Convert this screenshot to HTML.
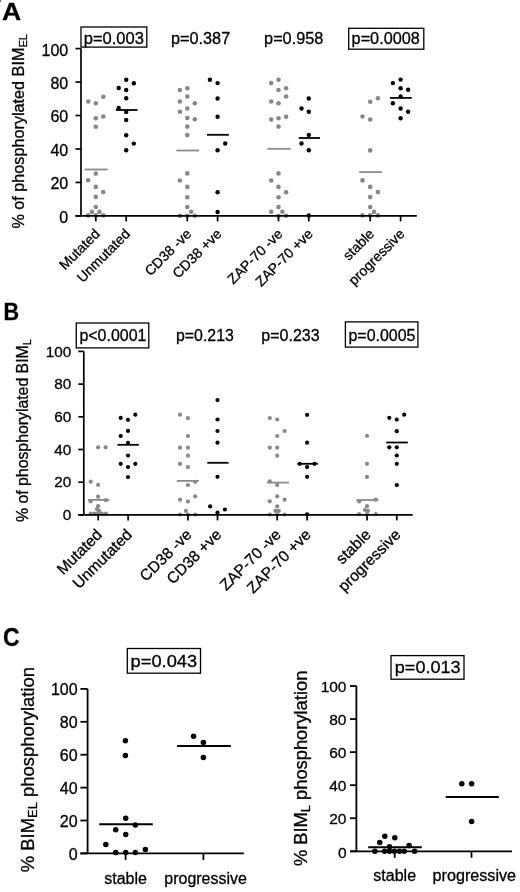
<!DOCTYPE html>
<html><head><meta charset="utf-8"><style>
html,body{margin:0;padding:0;background:#fff;}
svg{display:block;}
text{font-family:"Liberation Sans", sans-serif;fill:#000;stroke:#000;stroke-width:0.3px;}
</style></head><body>
<svg style="will-change:transform" width="520" height="892" viewBox="0 0 520 892">
<rect x="0" y="0" width="1.2" height="2" fill="#777"/>
<text x="1.9" y="19.6" font-size="24.8" text-anchor="start" textLength="19.2" lengthAdjust="spacingAndGlyphs" font-weight="bold" >A</text>
<text x="68.2" y="222.8" font-size="16" text-anchor="end" >0</text>
<text x="68.2" y="189.34" font-size="16" text-anchor="end" >20</text>
<text x="68.2" y="155.88000000000002" font-size="16" text-anchor="end" >40</text>
<text x="68.2" y="122.42000000000002" font-size="16" text-anchor="end" >60</text>
<text x="68.2" y="88.96000000000001" font-size="16" text-anchor="end" >80</text>
<text x="68.2" y="55.49999999999999" font-size="16" text-anchor="end" >100</text>
<circle cx="88.3" cy="101.5" r="2.3000000000000003" fill="#888888"/>
<circle cx="95.8" cy="103.3" r="2.3000000000000003" fill="#888888"/>
<circle cx="103.3" cy="96.7" r="2.3000000000000003" fill="#888888"/>
<circle cx="95.8" cy="118.3" r="2.3000000000000003" fill="#888888"/>
<circle cx="103.3" cy="116.5" r="2.3000000000000003" fill="#888888"/>
<circle cx="95.8" cy="126.7" r="2.3000000000000003" fill="#888888"/>
<circle cx="95.8" cy="173.6" r="2.3000000000000003" fill="#888888"/>
<circle cx="88.1" cy="180.3" r="2.3000000000000003" fill="#888888"/>
<circle cx="95.8" cy="186.9" r="2.3000000000000003" fill="#888888"/>
<circle cx="103.3" cy="192.1" r="2.3000000000000003" fill="#888888"/>
<circle cx="95.8" cy="196.9" r="2.3000000000000003" fill="#888888"/>
<circle cx="95.8" cy="207" r="2.3000000000000003" fill="#888888"/>
<circle cx="91.9" cy="211.9" r="2.3000000000000003" fill="#888888"/>
<circle cx="99.4" cy="211.9" r="2.3000000000000003" fill="#888888"/>
<circle cx="88.1" cy="215.4" r="2.3000000000000003" fill="#888888"/>
<circle cx="95.8" cy="215.4" r="2.3000000000000003" fill="#888888"/>
<circle cx="103.3" cy="215.4" r="2.3000000000000003" fill="#888888"/>
<circle cx="179.9" cy="90" r="2.3000000000000003" fill="#888888"/>
<circle cx="187.3" cy="88.2" r="2.3000000000000003" fill="#888888"/>
<circle cx="187.3" cy="96.5" r="2.3000000000000003" fill="#888888"/>
<circle cx="179.9" cy="101.5" r="2.3000000000000003" fill="#888888"/>
<circle cx="194.8" cy="103.2" r="2.3000000000000003" fill="#888888"/>
<circle cx="187.3" cy="108.5" r="2.3000000000000003" fill="#888888"/>
<circle cx="179.9" cy="111.7" r="2.3000000000000003" fill="#888888"/>
<circle cx="187.3" cy="118" r="2.3000000000000003" fill="#888888"/>
<circle cx="194.8" cy="119.2" r="2.3000000000000003" fill="#888888"/>
<circle cx="187.3" cy="126.6" r="2.3000000000000003" fill="#888888"/>
<circle cx="187.3" cy="135.1" r="2.3000000000000003" fill="#888888"/>
<circle cx="187.3" cy="173.4" r="2.3000000000000003" fill="#888888"/>
<circle cx="179.9" cy="180.5" r="2.3000000000000003" fill="#888888"/>
<circle cx="187.3" cy="186.9" r="2.3000000000000003" fill="#888888"/>
<circle cx="187.3" cy="197.2" r="2.3000000000000003" fill="#888888"/>
<circle cx="187.3" cy="207.1" r="2.3000000000000003" fill="#888888"/>
<circle cx="191.2" cy="211.8" r="2.3000000000000003" fill="#888888"/>
<circle cx="179.9" cy="215.7" r="2.3000000000000003" fill="#888888"/>
<circle cx="187.3" cy="215.7" r="2.3000000000000003" fill="#888888"/>
<circle cx="194.8" cy="215.7" r="2.3000000000000003" fill="#888888"/>
<circle cx="271.2" cy="83.1" r="2.3000000000000003" fill="#888888"/>
<circle cx="278.5" cy="79.7" r="2.3000000000000003" fill="#888888"/>
<circle cx="278.5" cy="90" r="2.3000000000000003" fill="#888888"/>
<circle cx="286.1" cy="88.2" r="2.3000000000000003" fill="#888888"/>
<circle cx="286.1" cy="96.5" r="2.3000000000000003" fill="#888888"/>
<circle cx="271.2" cy="101.5" r="2.3000000000000003" fill="#888888"/>
<circle cx="278.5" cy="103.2" r="2.3000000000000003" fill="#888888"/>
<circle cx="271.2" cy="119.6" r="2.3000000000000003" fill="#888888"/>
<circle cx="278.5" cy="118.2" r="2.3000000000000003" fill="#888888"/>
<circle cx="286.1" cy="116.7" r="2.3000000000000003" fill="#888888"/>
<circle cx="278.5" cy="126.6" r="2.3000000000000003" fill="#888888"/>
<circle cx="278.5" cy="173.4" r="2.3000000000000003" fill="#888888"/>
<circle cx="271.2" cy="180.5" r="2.3000000000000003" fill="#888888"/>
<circle cx="278.5" cy="186.9" r="2.3000000000000003" fill="#888888"/>
<circle cx="286.1" cy="192.3" r="2.3000000000000003" fill="#888888"/>
<circle cx="278.5" cy="197.2" r="2.3000000000000003" fill="#888888"/>
<circle cx="278.5" cy="207.1" r="2.3000000000000003" fill="#888888"/>
<circle cx="271.2" cy="211.8" r="2.3000000000000003" fill="#888888"/>
<circle cx="282.4" cy="211.8" r="2.3000000000000003" fill="#888888"/>
<circle cx="278.5" cy="215.7" r="2.3000000000000003" fill="#888888"/>
<circle cx="286.1" cy="215.7" r="2.3000000000000003" fill="#888888"/>
<circle cx="377.9" cy="98.3" r="2.3000000000000003" fill="#888888"/>
<circle cx="370.2" cy="101.7" r="2.3000000000000003" fill="#888888"/>
<circle cx="362.5" cy="116.5" r="2.3000000000000003" fill="#888888"/>
<circle cx="370.2" cy="119.5" r="2.3000000000000003" fill="#888888"/>
<circle cx="370.2" cy="150.4" r="2.3000000000000003" fill="#888888"/>
<circle cx="362.5" cy="180.4" r="2.3000000000000003" fill="#888888"/>
<circle cx="370.2" cy="186.9" r="2.3000000000000003" fill="#888888"/>
<circle cx="377.9" cy="192.1" r="2.3000000000000003" fill="#888888"/>
<circle cx="370.2" cy="197.1" r="2.3000000000000003" fill="#888888"/>
<circle cx="370.2" cy="207.1" r="2.3000000000000003" fill="#888888"/>
<circle cx="374" cy="211.9" r="2.3000000000000003" fill="#888888"/>
<circle cx="362.5" cy="215.4" r="2.3000000000000003" fill="#888888"/>
<circle cx="370.2" cy="215.4" r="2.3000000000000003" fill="#888888"/>
<circle cx="377.9" cy="215.4" r="2.3000000000000003" fill="#888888"/>
<circle cx="126.2" cy="79.8" r="2.2" fill="#000"/>
<circle cx="133.8" cy="83.3" r="2.2" fill="#000"/>
<circle cx="118.7" cy="88" r="2.2" fill="#000"/>
<circle cx="126.2" cy="90" r="2.2" fill="#000"/>
<circle cx="126.2" cy="98.3" r="2.2" fill="#000"/>
<circle cx="118.7" cy="107.9" r="2.2" fill="#000"/>
<circle cx="126.2" cy="111.9" r="2.2" fill="#000"/>
<circle cx="126.2" cy="120" r="2.2" fill="#000"/>
<circle cx="126.2" cy="135.2" r="2.2" fill="#000"/>
<circle cx="133.8" cy="143.6" r="2.2" fill="#000"/>
<circle cx="126.2" cy="150.3" r="2.2" fill="#000"/>
<circle cx="209.9" cy="79.7" r="2.2" fill="#000"/>
<circle cx="217.6" cy="83.1" r="2.2" fill="#000"/>
<circle cx="217.6" cy="98.5" r="2.2" fill="#000"/>
<circle cx="217.6" cy="116.7" r="2.2" fill="#000"/>
<circle cx="225.2" cy="143.5" r="2.2" fill="#000"/>
<circle cx="217.6" cy="150.3" r="2.2" fill="#000"/>
<circle cx="217.6" cy="192.2" r="2.2" fill="#000"/>
<circle cx="217.6" cy="212" r="2.2" fill="#000"/>
<circle cx="308.8" cy="98.5" r="2.2" fill="#000"/>
<circle cx="301.5" cy="108.5" r="2.2" fill="#000"/>
<circle cx="308.8" cy="111.8" r="2.2" fill="#000"/>
<circle cx="308.8" cy="134.9" r="2.2" fill="#000"/>
<circle cx="301.5" cy="143.5" r="2.2" fill="#000"/>
<circle cx="308.8" cy="150.3" r="2.2" fill="#000"/>
<circle cx="308.8" cy="215.5" r="2.2" fill="#000"/>
<circle cx="400.6" cy="79.6" r="2.2" fill="#000"/>
<circle cx="392.9" cy="83.1" r="2.2" fill="#000"/>
<circle cx="400.6" cy="88.3" r="2.2" fill="#000"/>
<circle cx="408.1" cy="89.8" r="2.2" fill="#000"/>
<circle cx="400.6" cy="96.5" r="2.2" fill="#000"/>
<circle cx="392.9" cy="103.3" r="2.2" fill="#000"/>
<circle cx="400.6" cy="108.5" r="2.2" fill="#000"/>
<circle cx="408.1" cy="111.7" r="2.2" fill="#000"/>
<circle cx="400.6" cy="118.2" r="2.2" fill="#000"/>
<line x1="84.60000000000001" y1="169.5" x2="107.69999999999999" y2="169.5" stroke="#8a8a8a" stroke-width="1.8"/>
<line x1="176.4" y1="150.5" x2="199.0" y2="150.5" stroke="#8a8a8a" stroke-width="1.8"/>
<line x1="267.4" y1="148.8" x2="290.6" y2="148.8" stroke="#8a8a8a" stroke-width="1.8"/>
<line x1="359.2" y1="172.1" x2="381.90000000000003" y2="172.1" stroke="#8a8a8a" stroke-width="1.8"/>
<line x1="115.8" y1="110" x2="137.5" y2="110" stroke="#000" stroke-width="1.8"/>
<line x1="207" y1="134.8" x2="228.8" y2="134.8" stroke="#000" stroke-width="1.8"/>
<line x1="298.8" y1="138" x2="320" y2="138" stroke="#000" stroke-width="1.8"/>
<line x1="390" y1="97.9" x2="411.7" y2="97.9" stroke="#000" stroke-width="1.8"/>
<rect x="81" y="27" width="65.80000000000001" height="20.1" fill="none" stroke="#000" stroke-width="1.3"/>
<text x="83.7" y="43.6" font-size="16" text-anchor="start" textLength="60.3" lengthAdjust="spacingAndGlyphs" >p=0.003</text>
<text x="171.0" y="43.7" font-size="16" text-anchor="start" textLength="59.2" lengthAdjust="spacingAndGlyphs" >p=0.387</text>
<text x="264.1" y="43.7" font-size="16" text-anchor="start" textLength="59.2" lengthAdjust="spacingAndGlyphs" >p=0.958</text>
<rect x="348.7" y="28.3" width="75.10000000000002" height="20.900000000000002" fill="none" stroke="#000" stroke-width="1.3"/>
<text x="351.6" y="43.7" font-size="16" text-anchor="start" textLength="68.2" lengthAdjust="spacingAndGlyphs" >p=0.0008</text>
<text transform="translate(23.8,228.6) rotate(-90) scale(1.0136,1)" font-size="16">% of phosphorylated BIM<tspan font-size="11" dy="3">EL</tspan></text>
<text transform="translate(100.7,234.8) rotate(-45)" font-size="14" text-anchor="end">Mutated</text>
<text transform="translate(131.1,234.8) rotate(-45)" font-size="14" text-anchor="end">Unmutated</text>
<text transform="translate(192.20000000000002,234.8) rotate(-45)" font-size="14" text-anchor="end">CD38 -ve</text>
<text transform="translate(222.5,234.8) rotate(-45)" font-size="14" text-anchor="end">CD38 +ve</text>
<text transform="translate(283.4,234.8) rotate(-45)" font-size="14" text-anchor="end">ZAP-70 -ve</text>
<text transform="translate(313.7,234.8) rotate(-45)" font-size="14" text-anchor="end">ZAP-70 +ve</text>
<text transform="translate(375.09999999999997,234.8) rotate(-45)" font-size="14" text-anchor="end">stable</text>
<text transform="translate(405.5,234.8) rotate(-45)" font-size="14" text-anchor="end">progressive</text>
<text x="3.4" y="320" font-size="24.5" text-anchor="start" textLength="15.6" lengthAdjust="spacingAndGlyphs" font-weight="bold" >B</text>
<text x="71.2" y="520.1" font-size="15.3" text-anchor="end" >0</text>
<text x="71.2" y="487.4" font-size="15.3" text-anchor="end" >20</text>
<text x="71.2" y="454.7" font-size="15.3" text-anchor="end" >40</text>
<text x="71.2" y="421.99999999999994" font-size="15.3" text-anchor="end" >60</text>
<text x="71.2" y="389.29999999999995" font-size="15.3" text-anchor="end" >80</text>
<text x="71.2" y="356.59999999999997" font-size="15.3" text-anchor="end" >100</text>
<circle cx="98.1" cy="447.3" r="2.1" fill="#888888"/>
<circle cx="105.6" cy="447.3" r="2.1" fill="#888888"/>
<circle cx="90.7" cy="481.7" r="2.1" fill="#888888"/>
<circle cx="98.1" cy="484.8" r="2.1" fill="#888888"/>
<circle cx="98.1" cy="496.7" r="2.1" fill="#888888"/>
<circle cx="90.7" cy="501.3" r="2.1" fill="#888888"/>
<circle cx="105.9" cy="500.2" r="2.1" fill="#888888"/>
<circle cx="98.1" cy="506.2" r="2.1" fill="#888888"/>
<circle cx="96.9" cy="509" r="2.1" fill="#888888"/>
<circle cx="99" cy="510.8" r="2.1" fill="#888888"/>
<circle cx="90.7" cy="513.7" r="2.1" fill="#888888"/>
<circle cx="94.4" cy="513.7" r="2.1" fill="#888888"/>
<circle cx="98.1" cy="513" r="2.1" fill="#888888"/>
<circle cx="101.9" cy="513.7" r="2.1" fill="#888888"/>
<circle cx="105.9" cy="513.7" r="2.1" fill="#888888"/>
<circle cx="180.1" cy="414.7" r="2.1" fill="#888888"/>
<circle cx="187.9" cy="418.1" r="2.1" fill="#888888"/>
<circle cx="187.9" cy="436" r="2.1" fill="#888888"/>
<circle cx="180.1" cy="447.7" r="2.1" fill="#888888"/>
<circle cx="187.9" cy="447.7" r="2.1" fill="#888888"/>
<circle cx="187.9" cy="455.7" r="2.1" fill="#888888"/>
<circle cx="180.1" cy="463.8" r="2.1" fill="#888888"/>
<circle cx="187.9" cy="467.1" r="2.1" fill="#888888"/>
<circle cx="195.2" cy="481.8" r="2.1" fill="#888888"/>
<circle cx="187.9" cy="485" r="2.1" fill="#888888"/>
<circle cx="195.2" cy="496.3" r="2.1" fill="#888888"/>
<circle cx="180.1" cy="499.7" r="2.1" fill="#888888"/>
<circle cx="187.9" cy="501.5" r="2.1" fill="#888888"/>
<circle cx="185.9" cy="510.9" r="2.1" fill="#888888"/>
<circle cx="180.1" cy="514.5" r="2.1" fill="#888888"/>
<circle cx="187.9" cy="514.5" r="2.1" fill="#888888"/>
<circle cx="195.2" cy="514.5" r="2.1" fill="#888888"/>
<circle cx="269.8" cy="418.1" r="2.1" fill="#888888"/>
<circle cx="277.2" cy="419.5" r="2.1" fill="#888888"/>
<circle cx="284.6" cy="431" r="2.1" fill="#888888"/>
<circle cx="277.2" cy="436" r="2.1" fill="#888888"/>
<circle cx="269.8" cy="447.7" r="2.1" fill="#888888"/>
<circle cx="277.2" cy="447.7" r="2.1" fill="#888888"/>
<circle cx="277.2" cy="455.7" r="2.1" fill="#888888"/>
<circle cx="269.8" cy="481.3" r="2.1" fill="#888888"/>
<circle cx="277.2" cy="484.9" r="2.1" fill="#888888"/>
<circle cx="277.2" cy="496.3" r="2.1" fill="#888888"/>
<circle cx="284.6" cy="499.7" r="2.1" fill="#888888"/>
<circle cx="269.8" cy="501.3" r="2.1" fill="#888888"/>
<circle cx="277.2" cy="506.4" r="2.1" fill="#888888"/>
<circle cx="275.5" cy="510.9" r="2.1" fill="#888888"/>
<circle cx="278.8" cy="510.9" r="2.1" fill="#888888"/>
<circle cx="269.8" cy="514.5" r="2.1" fill="#888888"/>
<circle cx="277.2" cy="514.5" r="2.1" fill="#888888"/>
<circle cx="284.6" cy="514.5" r="2.1" fill="#888888"/>
<circle cx="367" cy="435.8" r="2.1" fill="#888888"/>
<circle cx="367" cy="463.8" r="2.1" fill="#888888"/>
<circle cx="367" cy="476.9" r="2.1" fill="#888888"/>
<circle cx="359.2" cy="501.5" r="2.1" fill="#888888"/>
<circle cx="375.8" cy="499.7" r="2.1" fill="#888888"/>
<circle cx="367" cy="506.2" r="2.1" fill="#888888"/>
<circle cx="365" cy="510" r="2.1" fill="#888888"/>
<circle cx="368" cy="510.8" r="2.1" fill="#888888"/>
<circle cx="359.2" cy="514.2" r="2.1" fill="#888888"/>
<circle cx="367" cy="514.2" r="2.1" fill="#888888"/>
<circle cx="375.8" cy="514.2" r="2.1" fill="#888888"/>
<circle cx="135.3" cy="414.7" r="2.1" fill="#000"/>
<circle cx="120.7" cy="417.9" r="2.1" fill="#000"/>
<circle cx="128" cy="419.8" r="2.1" fill="#000"/>
<circle cx="128" cy="430.9" r="2.1" fill="#000"/>
<circle cx="120.7" cy="436" r="2.1" fill="#000"/>
<circle cx="128" cy="442.9" r="2.1" fill="#000"/>
<circle cx="128" cy="455.6" r="2.1" fill="#000"/>
<circle cx="120.7" cy="463.8" r="2.1" fill="#000"/>
<circle cx="135.3" cy="463.8" r="2.1" fill="#000"/>
<circle cx="128" cy="467" r="2.1" fill="#000"/>
<circle cx="128" cy="477.1" r="2.1" fill="#000"/>
<circle cx="217.5" cy="400.1" r="2.1" fill="#000"/>
<circle cx="217.5" cy="419.5" r="2.1" fill="#000"/>
<circle cx="217.5" cy="431" r="2.1" fill="#000"/>
<circle cx="217.5" cy="442.7" r="2.1" fill="#000"/>
<circle cx="217.5" cy="476.8" r="2.1" fill="#000"/>
<circle cx="210.1" cy="506.4" r="2.1" fill="#000"/>
<circle cx="224.9" cy="509.5" r="2.1" fill="#000"/>
<circle cx="217.5" cy="512.5" r="2.1" fill="#000"/>
<circle cx="307.1" cy="414.8" r="2.1" fill="#000"/>
<circle cx="307.1" cy="442.7" r="2.1" fill="#000"/>
<circle cx="299.7" cy="463.8" r="2.1" fill="#000"/>
<circle cx="314.5" cy="463.8" r="2.1" fill="#000"/>
<circle cx="307.1" cy="467.1" r="2.1" fill="#000"/>
<circle cx="307.1" cy="476.8" r="2.1" fill="#000"/>
<circle cx="307.1" cy="514.3" r="2.1" fill="#000"/>
<circle cx="404.2" cy="414.7" r="2.1" fill="#000"/>
<circle cx="389.3" cy="417.8" r="2.1" fill="#000"/>
<circle cx="396.8" cy="419.6" r="2.1" fill="#000"/>
<circle cx="396.8" cy="431.2" r="2.1" fill="#000"/>
<circle cx="389.3" cy="447.3" r="2.1" fill="#000"/>
<circle cx="396.8" cy="447.3" r="2.1" fill="#000"/>
<circle cx="396.8" cy="455.5" r="2.1" fill="#000"/>
<circle cx="396.8" cy="463.8" r="2.1" fill="#000"/>
<circle cx="396.8" cy="485.1" r="2.1" fill="#000"/>
<line x1="88.0" y1="499.9" x2="109.39999999999999" y2="499.9" stroke="#8a8a8a" stroke-width="1.8"/>
<line x1="176.8" y1="480.9" x2="198.9" y2="480.9" stroke="#8a8a8a" stroke-width="1.8"/>
<line x1="266.79999999999995" y1="482.6" x2="288.90000000000003" y2="482.6" stroke="#8a8a8a" stroke-width="1.8"/>
<line x1="356.4" y1="500" x2="378.40000000000003" y2="500" stroke="#8a8a8a" stroke-width="1.8"/>
<line x1="117.5" y1="444.8" x2="138.8" y2="444.8" stroke="#000" stroke-width="1.8"/>
<line x1="207.3" y1="462.8" x2="228.5" y2="462.8" stroke="#000" stroke-width="1.8"/>
<line x1="297.4" y1="463.8" x2="317.9" y2="463.8" stroke="#000" stroke-width="1.8"/>
<line x1="386.2" y1="442.5" x2="407.8" y2="442.5" stroke="#000" stroke-width="1.8"/>
<rect x="76.3" y="323" width="72.50000000000001" height="24.899999999999977" fill="none" stroke="#000" stroke-width="1.3"/>
<text x="79.4" y="340.9" font-size="16" text-anchor="start" textLength="67" lengthAdjust="spacingAndGlyphs" >p&lt;0.0001</text>
<text x="176.0" y="340.9" font-size="16" text-anchor="start" textLength="57.8" lengthAdjust="spacingAndGlyphs" >p=0.213</text>
<text x="261.3" y="340.9" font-size="16" text-anchor="start" textLength="58.3" lengthAdjust="spacingAndGlyphs" >p=0.233</text>
<rect x="345.4" y="321.9" width="72.5" height="25.200000000000045" fill="none" stroke="#000" stroke-width="1.3"/>
<text x="348.5" y="340.9" font-size="16" text-anchor="start" textLength="67" lengthAdjust="spacingAndGlyphs" >p=0.0005</text>
<text transform="translate(28.2,522.0) rotate(-90) scale(0.989,1)" font-size="16">% of phosphorylated BIM<tspan font-size="11" dy="3">L</tspan></text>
<text transform="translate(103.0,535.6) rotate(-45)" font-size="15.6" text-anchor="end">Mutated</text>
<text transform="translate(132.9,535.6) rotate(-45)" font-size="15.6" text-anchor="end">Unmutated</text>
<text transform="translate(192.70000000000002,535.6) rotate(-45)" font-size="15.6" text-anchor="end">CD38 -ve</text>
<text transform="translate(222.3,535.6) rotate(-45)" font-size="15.6" text-anchor="end">CD38 +ve</text>
<text transform="translate(282.0,535.6) rotate(-45)" font-size="15.6" text-anchor="end">ZAP-70 -ve</text>
<text transform="translate(311.90000000000003,535.6) rotate(-45)" font-size="15.6" text-anchor="end">ZAP-70 +ve</text>
<text transform="translate(371.8,535.6) rotate(-45)" font-size="15.6" text-anchor="end">stable</text>
<text transform="translate(401.6,535.6) rotate(-45)" font-size="15.6" text-anchor="end">progressive</text>
<text x="2.9" y="645.6" font-size="25.6" text-anchor="start" textLength="16.6" lengthAdjust="spacingAndGlyphs" font-weight="bold" >C</text>
<text x="77.6" y="859.8" font-size="16" text-anchor="end" >0</text>
<text x="77.6" y="826.9" font-size="16" text-anchor="end" >20</text>
<text x="77.6" y="794.0" font-size="16" text-anchor="end" >40</text>
<text x="77.6" y="761.0999999999999" font-size="16" text-anchor="end" >60</text>
<text x="77.6" y="728.1999999999999" font-size="16" text-anchor="end" >80</text>
<text x="77.6" y="695.3" font-size="16" text-anchor="end" >100</text>
<circle cx="125.4" cy="740.8" r="2.75" fill="#000"/>
<circle cx="125.4" cy="755.5" r="2.75" fill="#000"/>
<circle cx="125.7" cy="818.2" r="2.75" fill="#000"/>
<circle cx="135.4" cy="824.9" r="2.75" fill="#000"/>
<circle cx="115.7" cy="829.7" r="2.75" fill="#000"/>
<circle cx="125.7" cy="834.6" r="2.75" fill="#000"/>
<circle cx="105.8" cy="844.6" r="2.75" fill="#000"/>
<circle cx="145.4" cy="849.5" r="2.75" fill="#000"/>
<circle cx="115.7" cy="852.6" r="2.75" fill="#000"/>
<circle cx="125.7" cy="852.6" r="2.75" fill="#000"/>
<circle cx="135.4" cy="852.6" r="2.75" fill="#000"/>
<circle cx="193.6" cy="736.2" r="2.75" fill="#000"/>
<circle cx="203.4" cy="742.5" r="2.75" fill="#000"/>
<circle cx="203.4" cy="757.6" r="2.75" fill="#000"/>
<line x1="99.2" y1="824.2" x2="152.8" y2="824.2" stroke="#000" stroke-width="2.0"/>
<line x1="177" y1="745.9" x2="230.8" y2="745.9" stroke="#000" stroke-width="2.0"/>
<rect x="127.3" y="648.5" width="73.2" height="24.700000000000045" fill="none" stroke="#000" stroke-width="1.3"/>
<text x="130.6" y="667.2" font-size="16" text-anchor="start" textLength="66.5" lengthAdjust="spacingAndGlyphs" >p=0.043</text>
<text transform="translate(34.4,872.2) rotate(-90) scale(1.025,1)" font-size="18">% BIM<tspan font-size="12.5" dy="3">EL</tspan><tspan dy="-3"> phosphorylation</tspan></text>
<text x="125.6" y="883.5" font-size="16" text-anchor="middle" >stable</text>
<text x="205.6" y="883.5" font-size="16" text-anchor="middle" textLength="82.5" lengthAdjust="spacingAndGlyphs" >progressive</text>
<text x="346.5" y="857.5" font-size="15.5" text-anchor="end" >0</text>
<text x="346.5" y="824.44" font-size="15.5" text-anchor="end" >20</text>
<text x="346.5" y="791.38" font-size="15.5" text-anchor="end" >40</text>
<text x="346.5" y="758.32" font-size="15.5" text-anchor="end" >60</text>
<text x="346.5" y="725.26" font-size="15.5" text-anchor="end" >80</text>
<text x="346.5" y="692.2" font-size="15.5" text-anchor="end" >100</text>
<circle cx="384.8" cy="836.3" r="2.75" fill="#000"/>
<circle cx="394.8" cy="837.8" r="2.75" fill="#000"/>
<circle cx="379.7" cy="842.5" r="2.75" fill="#000"/>
<circle cx="409.1" cy="845.6" r="2.75" fill="#000"/>
<circle cx="389.5" cy="846.7" r="2.75" fill="#000"/>
<circle cx="374.8" cy="851.3" r="2.75" fill="#000"/>
<circle cx="384.6" cy="851.3" r="2.75" fill="#000"/>
<circle cx="394.4" cy="851.3" r="2.75" fill="#000"/>
<circle cx="404.2" cy="851.3" r="2.75" fill="#000"/>
<circle cx="414.6" cy="851.3" r="2.75" fill="#000"/>
<circle cx="399.5" cy="851.3" r="2.75" fill="#000"/>
<circle cx="389.5" cy="851.3" r="2.75" fill="#000"/>
<circle cx="461.8" cy="783.7" r="2.75" fill="#000"/>
<circle cx="471.6" cy="783.7" r="2.75" fill="#000"/>
<circle cx="471.6" cy="821.5" r="2.75" fill="#000"/>
<line x1="368.2" y1="847.3" x2="421.8" y2="847.3" stroke="#000" stroke-width="2.0"/>
<line x1="445.7" y1="796.9" x2="498.8" y2="796.9" stroke="#000" stroke-width="2.0"/>
<rect x="391" y="655.6" width="73" height="23.600000000000023" fill="none" stroke="#000" stroke-width="1.3"/>
<text x="394.8" y="673.0" font-size="16" text-anchor="start" textLength="65.8" lengthAdjust="spacingAndGlyphs" >p=0.013</text>
<text transform="translate(306.7,866.1) rotate(-90) scale(1.018,1)" font-size="18">% BIM<tspan font-size="12.5" dy="3">L</tspan><tspan dy="-3"> phosphorylation</tspan></text>
<text x="394.7" y="880.7" font-size="16" text-anchor="middle" >stable</text>
<text x="474.3" y="880.7" font-size="16" text-anchor="middle" textLength="83.5" lengthAdjust="spacingAndGlyphs" >progressive</text>
<line x1="81.0" y1="48.6" x2="81.0" y2="215.9" stroke="#000" stroke-width="1.7"/>
<line x1="75.5" y1="215.9" x2="81.0" y2="215.9" stroke="#000" stroke-width="1.7"/>
<line x1="75.5" y1="182.44" x2="81.0" y2="182.44" stroke="#000" stroke-width="1.7"/>
<line x1="75.5" y1="148.98000000000002" x2="81.0" y2="148.98000000000002" stroke="#000" stroke-width="1.7"/>
<line x1="75.5" y1="115.52000000000001" x2="81.0" y2="115.52000000000001" stroke="#000" stroke-width="1.7"/>
<line x1="75.5" y1="82.06" x2="81.0" y2="82.06" stroke="#000" stroke-width="1.7"/>
<line x1="75.5" y1="48.599999999999994" x2="81.0" y2="48.599999999999994" stroke="#000" stroke-width="1.7"/>
<line x1="75.5" y1="215.9" x2="416.8" y2="215.9" stroke="#000" stroke-width="1.7"/>
<line x1="95.8" y1="215.9" x2="95.8" y2="221.4" stroke="#000" stroke-width="1.7"/>
<line x1="126.2" y1="215.9" x2="126.2" y2="221.4" stroke="#000" stroke-width="1.7"/>
<line x1="187.3" y1="215.9" x2="187.3" y2="221.4" stroke="#000" stroke-width="1.7"/>
<line x1="217.6" y1="215.9" x2="217.6" y2="221.4" stroke="#000" stroke-width="1.7"/>
<line x1="278.5" y1="215.9" x2="278.5" y2="221.4" stroke="#000" stroke-width="1.7"/>
<line x1="308.8" y1="215.9" x2="308.8" y2="221.4" stroke="#000" stroke-width="1.7"/>
<line x1="370.2" y1="215.9" x2="370.2" y2="221.4" stroke="#000" stroke-width="1.7"/>
<line x1="400.6" y1="215.9" x2="400.6" y2="221.4" stroke="#000" stroke-width="1.7"/>
<line x1="83.8" y1="351.4" x2="83.8" y2="514.9" stroke="#000" stroke-width="1.7"/>
<line x1="78.3" y1="514.9" x2="83.8" y2="514.9" stroke="#000" stroke-width="1.7"/>
<line x1="78.3" y1="482.2" x2="83.8" y2="482.2" stroke="#000" stroke-width="1.7"/>
<line x1="78.3" y1="449.5" x2="83.8" y2="449.5" stroke="#000" stroke-width="1.7"/>
<line x1="78.3" y1="416.79999999999995" x2="83.8" y2="416.79999999999995" stroke="#000" stroke-width="1.7"/>
<line x1="78.3" y1="384.09999999999997" x2="83.8" y2="384.09999999999997" stroke="#000" stroke-width="1.7"/>
<line x1="78.3" y1="351.4" x2="83.8" y2="351.4" stroke="#000" stroke-width="1.7"/>
<line x1="78.3" y1="514.9" x2="412.7" y2="514.9" stroke="#000" stroke-width="1.7"/>
<line x1="98.2" y1="514.9" x2="98.2" y2="520.4" stroke="#000" stroke-width="1.7"/>
<line x1="128.1" y1="514.9" x2="128.1" y2="520.4" stroke="#000" stroke-width="1.7"/>
<line x1="187.9" y1="514.9" x2="187.9" y2="520.4" stroke="#000" stroke-width="1.7"/>
<line x1="217.5" y1="514.9" x2="217.5" y2="520.4" stroke="#000" stroke-width="1.7"/>
<line x1="277.2" y1="514.9" x2="277.2" y2="520.4" stroke="#000" stroke-width="1.7"/>
<line x1="307.1" y1="514.9" x2="307.1" y2="520.4" stroke="#000" stroke-width="1.7"/>
<line x1="367" y1="514.9" x2="367" y2="520.4" stroke="#000" stroke-width="1.7"/>
<line x1="396.8" y1="514.9" x2="396.8" y2="520.4" stroke="#000" stroke-width="1.7"/>
<line x1="87.6" y1="688.9" x2="87.6" y2="853.4" stroke="#000" stroke-width="1.8"/>
<line x1="80.4" y1="853.4" x2="87.6" y2="853.4" stroke="#000" stroke-width="1.8"/>
<line x1="80.4" y1="820.5" x2="87.6" y2="820.5" stroke="#000" stroke-width="1.8"/>
<line x1="80.4" y1="787.6" x2="87.6" y2="787.6" stroke="#000" stroke-width="1.8"/>
<line x1="80.4" y1="754.6999999999999" x2="87.6" y2="754.6999999999999" stroke="#000" stroke-width="1.8"/>
<line x1="80.4" y1="721.8" x2="87.6" y2="721.8" stroke="#000" stroke-width="1.8"/>
<line x1="80.4" y1="688.9" x2="87.6" y2="688.9" stroke="#000" stroke-width="1.8"/>
<line x1="80.4" y1="853.4" x2="243.8" y2="853.4" stroke="#000" stroke-width="1.8"/>
<line x1="125.6" y1="853.4" x2="125.6" y2="859.9" stroke="#000" stroke-width="1.8"/>
<line x1="203.4" y1="853.4" x2="203.4" y2="859.9" stroke="#000" stroke-width="1.8"/>
<line x1="356.4" y1="686.0" x2="356.4" y2="851.3" stroke="#000" stroke-width="1.8"/>
<line x1="350" y1="851.3" x2="356.4" y2="851.3" stroke="#000" stroke-width="1.8"/>
<line x1="350" y1="818.24" x2="356.4" y2="818.24" stroke="#000" stroke-width="1.8"/>
<line x1="350" y1="785.18" x2="356.4" y2="785.18" stroke="#000" stroke-width="1.8"/>
<line x1="350" y1="752.12" x2="356.4" y2="752.12" stroke="#000" stroke-width="1.8"/>
<line x1="350" y1="719.06" x2="356.4" y2="719.06" stroke="#000" stroke-width="1.8"/>
<line x1="350" y1="686.0" x2="356.4" y2="686.0" stroke="#000" stroke-width="1.8"/>
<line x1="350" y1="851.3" x2="512" y2="851.3" stroke="#000" stroke-width="1.8"/>
<line x1="394.7" y1="851.3" x2="394.7" y2="857.8" stroke="#000" stroke-width="1.8"/>
<line x1="471.5" y1="851.3" x2="471.5" y2="857.8" stroke="#000" stroke-width="1.8"/>
</svg>
</body></html>
